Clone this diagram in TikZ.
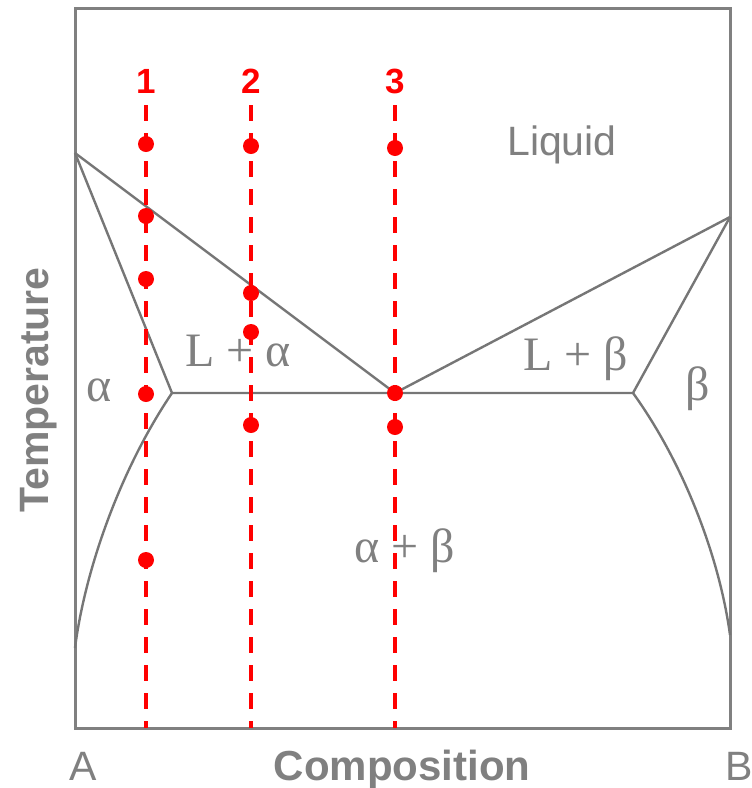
\documentclass[tikz,border=0pt]{standalone}
\usepackage{fontspec}
\setmainfont{Liberation Sans}
\newfontfamily\phasefont{Liberation Serif}
\usetikzlibrary{positioning, calc}
\definecolor{axisgray}{HTML}{808080}
\definecolor{linegray}{HTML}{767676}
\definecolor{coolred}{HTML}{FF0000}

\begin{document}
\begin{tikzpicture}[x=1pt, y=-1pt,
    frame/.style={draw=axisgray, line width=3pt},
    phase/.style={draw=linegray, line width=2.4pt, line join=round},
    coolpath/.style={draw=coolred, line width=4pt, dash pattern=on 16pt off 12pt},
    statedot/.style={circle, fill=coolred, inner sep=0pt, minimum size=16pt},
    sanslbl/.style={text=axisgray, inner sep=0pt, anchor=base, font=\fontsize{41}{49}\selectfont},
    greeklbl/.style={text=axisgray, inner sep=0pt, anchor=base, font=\phasefont\fontsize{48}{56}\selectfont},
    numlbl/.style={text=coolred, inner sep=0pt, anchor=base, font=\bfseries\fontsize{35}{42}\selectfont}]
  \useasboundingbox (0,0) rectangle (752,788);

  % frame
  \coordinate (tl) at (75,8);
  \coordinate (br) at (730,728);
  \draw[frame] (tl) rectangle (br);

  % phase boundaries
  \coordinate (meltA) at (75,153);
  \coordinate (meltB) at (730,217);
  \coordinate (eut) at (395,393);
  \coordinate (alphaMax) at (172,393);
  \coordinate (betaMax) at (633,393);
  \coordinate (solvA) at (75,648);
  \coordinate (solvB) at (730,635);
  \draw[phase] (meltA) -- (eut) -- (meltB);
  \draw[phase] (meltA) -- (alphaMax) -- (betaMax) -- (meltB);
  \draw[phase] (alphaMax) .. controls (120,470) and (85,570) .. (solvA);
  \draw[phase] (betaMax) .. controls (685,465) and (720,560) .. (solvB);

  % region labels
  \node[sanslbl] (liquid) at (562,155) {Liquid};
  \node[greeklbl] (lalpha) at (238,366) {L + α};
  \node[greeklbl] (lbeta) at (576,370) {L + β};
  \node[greeklbl] (alpha) at (99,401) {α};
  \node[greeklbl] (beta) at (698,400) {β};
  \node[greeklbl] (alphabeta) at (405,562) {α + β};

  % axes
  \node[sanslbl] (endA) at (83,780) {A};
  \node[sanslbl] (endB) at (739,780) {B};
  \node[sanslbl, font=\bfseries\fontsize{42}{50}\selectfont] (comp) at (402,780) {Composition};
  \node[sanslbl, rotate=90, font=\bfseries\fontsize{41}{49}\selectfont] (temp) at (48,390) {Temperature};

  % cooling paths
  \foreach \n/\x in {1/146, 2/251, 3/395} {
    \node[numlbl] (num\n) at (\x,93) {\n};
    \coordinate (top\n) at (\x,105);
    \coordinate (bot\n) at (\x,728);
    \draw[coolpath] (top\n) -- (bot\n);
  }
  \foreach \x/\y [count=\i] in {146/144, 146/216, 146/279, 146/394, 146/560,
      251/146, 251/293, 251/332, 251/425, 395/148, 395/393, 395/427}
    \node[statedot] (dot\i) at (\x,\y) {};
\end{tikzpicture}
\end{document}
